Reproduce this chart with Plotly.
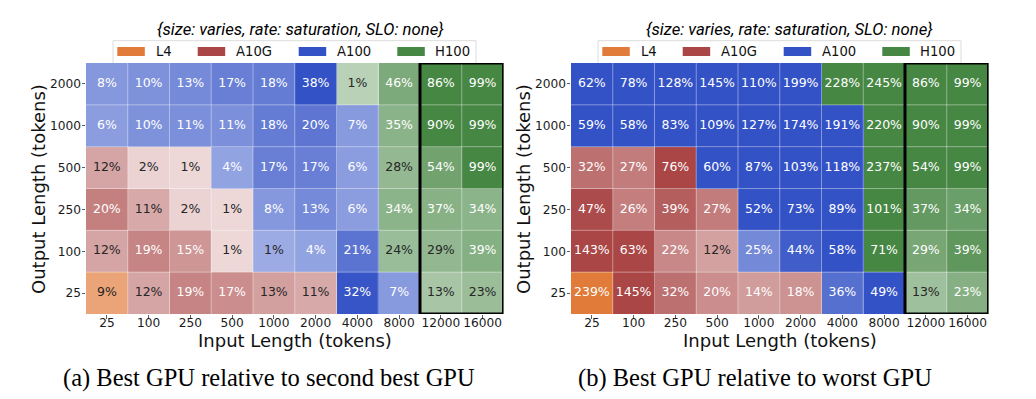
import plotly.graph_objects as go

# ---------------- data ----------------
gpus = ["L4", "A10G", "A100", "H100"]
input_lengths = ["25", "100", "250", "500", "1000", "2000", "4000", "8000", "12000", "16000"]
output_lengths = ["25", "100", "250", "500", "1000", "2000"]  # bottom -> top
highlight_inputs = ["12000", "16000"]

# best GPU per cell (rows bottom -> top, columns = input lengths)
best_gpu = [
    ["L4", "A10G", "A10G", "A10G", "A10G", "A10G", "A100", "A100", "H100", "H100"],
    ["A10G", "A10G", "A10G", "A10G", "A100", "A100", "A100", "H100", "H100", "H100"],
    ["A10G", "A10G", "A10G", "A10G", "A100", "A100", "A100", "H100", "H100", "H100"],
    ["A10G", "A10G", "A10G", "A100", "A100", "A100", "A100", "H100", "H100", "H100"],
    ["A100", "A100", "A100", "A100", "A100", "A100", "A100", "H100", "H100", "H100"],
    ["A100", "A100", "A100", "A100", "A100", "A100", "H100", "H100", "H100", "H100"],
]

# (a) best GPU relative to second best GPU (%)
vs_second_best = [
    [9, 12, 19, 17, 13, 11, 32, 7, 13, 23],
    [12, 19, 15, 1, 1, 4, 21, 24, 29, 39],
    [20, 11, 2, 1, 8, 13, 6, 34, 37, 34],
    [12, 2, 1, 4, 17, 17, 6, 28, 54, 99],
    [6, 10, 11, 11, 18, 20, 7, 35, 90, 99],
    [8, 10, 13, 17, 18, 38, 1, 46, 86, 99],
]

# (b) best GPU relative to worst GPU (%)
vs_worst = [
    [239, 145, 32, 20, 14, 18, 36, 49, 13, 23],
    [143, 63, 22, 12, 25, 44, 58, 71, 29, 39],
    [47, 26, 39, 27, 52, 73, 89, 101, 37, 34],
    [32, 27, 76, 60, 87, 103, 118, 237, 54, 99],
    [59, 58, 83, 109, 127, 174, 191, 220, 90, 99],
    [62, 78, 128, 145, 110, 199, 228, 245, 86, 99],
]

subtitle = "{size: varies, rate: saturation, SLO: none}"
captions = ["(a) Best GPU relative to second best GPU", "(b) Best GPU relative to worst GPU"]
x_title = "Input Length (tokens)"
y_title = "Output Length (tokens)"

# ---------------- styles ----------------
gpu_colors = {"L4": "#E07B39", "A10G": "#AA4646", "A100": "#3352C6", "H100": "#478744"}
# intensity (share of full colour) = intercept + slope * value, per panel / GPU
shade_a = {"L4": (0.40, 0.032), "A10G": (0.19, 0.025), "A100": (0.47, 0.016), "H100": (0.38, 0.0072)}
shade_b = {g: (0.35, 0.0133) for g in gpus}

W, H = 1036, 399
FONT = "DejaVu Sans"
DARK = "#262626"


def hex_rgb(h):
    h = h.lstrip("#")
    return tuple(int(h[i:i + 2], 16) for i in (0, 2, 4))


def blend(color, a):
    r, g, b = hex_rgb(color)
    return tuple(255 - a * (255 - c) for c in (r, g, b))


def lum(rgb):
    out = []
    for c in rgb:
        c = c / 255.0
        out.append(c / 12.92 if c <= 0.03928 else ((c + 0.055) / 1.055) ** 2.4)
    return 0.2126 * out[0] + 0.7152 * out[1] + 0.0722 * out[2]


def px(x):
    return x / W


def py(y):
    return 1 - y / H


panels = [
    dict(vals=vs_second_best, shade=shade_a, xa="x", ya="y", dx=0, title_x=300.3),
    dict(vals=vs_worst, shade=shade_b, xa="x2", ya="y2", dx=485, title_x=789.7),
]

fig = go.Figure()
shapes = []
annotations = []

for pi, p in enumerate(panels):
    vals = p["vals"]
    # one heatmap per GPU
    for g in gpus:
        z = []
        for r in range(len(output_lengths)):
            row = []
            for c in range(len(input_lengths)):
                if best_gpu[r][c] == g:
                    a0, s = p["shade"][g]
                    row.append(min(1.0, max(0.0, a0 + s * vals[r][c])))
                else:
                    row.append(None)
            z.append(row)
        fig.add_trace(go.Heatmap(
            x=input_lengths, y=output_lengths, z=z, zmin=0, zmax=1,
            colorscale=[[0, "#ffffff"], [1, gpu_colors[g]]],
            showscale=False, hoverinfo="skip", xaxis=p["xa"], yaxis=p["ya"],
        ))
    # cell labels
    tx, ty, tt, tc = [], [], [], []
    for r in range(len(output_lengths)):
        for c in range(len(input_lengths)):
            g = best_gpu[r][c]
            a0, s = p["shade"][g]
            a = min(1.0, max(0.0, a0 + s * vals[r][c]))
            rgb = blend(gpu_colors[g], a)
            tx.append(input_lengths[c])
            ty.append(output_lengths[r])
            tt.append(f"{vals[r][c]}%")
            tc.append(DARK if lum(rgb) > 0.408 else "#ffffff")
    fig.add_trace(go.Scatter(
        x=tx, y=ty, text=tt, mode="text", textposition="middle center",
        textfont=dict(family=FONT, size=12.5, color=tc),
        hoverinfo="skip", showlegend=False, xaxis=p["xa"], yaxis=p["ya"],
    ))

    # thin white grid lines between cells
    for k in range(len(input_lengths) - 1):
        shapes.append(dict(type="line", xref=p["xa"], yref=p["ya"], x0=k + 0.5, x1=k + 0.5,
                           y0=-0.5, y1=len(output_lengths) - 0.5,
                           line=dict(color="rgba(255,255,255,0.4)", width=1)))
    for k in range(len(output_lengths) - 1):
        shapes.append(dict(type="line", xref=p["xa"], yref=p["ya"], x0=-0.5, x1=len(input_lengths) - 0.5,
                           y0=k + 0.5, y1=k + 0.5,
                           line=dict(color="rgba(255,255,255,0.4)", width=1)))
    # highlight box
    i0 = input_lengths.index(highlight_inputs[0]) - 0.5
    i1 = input_lengths.index(highlight_inputs[-1]) + 0.5
    shapes.append(dict(type="rect", xref=p["xa"], yref=p["ya"], x0=i0, x1=i1,
                       y0=-0.5, y1=len(output_lengths) - 0.5,
                       line=dict(color="#000000", width=3), fillcolor="rgba(0,0,0,0)"))

    dx = p["dx"]
    # legend box (manual, matplotlib style)
    shapes.append(dict(type="rect", xref="paper", yref="paper", layer="below",
                       x0=px(113 + dx), x1=px(476 + dx), y0=py(64), y1=py(40.7),
                       line=dict(color="#dcdcdc", width=1), fillcolor="#ffffff"))
    sw_x = [117.3, 197.7, 298.7, 397.3]
    tx_x = [155.7, 235.7, 336.7, 435.0]
    for g, sx, lx in zip(gpus, sw_x, tx_x):
        shapes.append(dict(type="rect", xref="paper", yref="paper",
                           x0=px(sx + dx), x1=px(sx + 27.5 + dx), y0=py(56), y1=py(47),
                           line=dict(width=0), fillcolor=gpu_colors[g]))
        annotations.append(dict(xref="paper", yref="paper", x=px(lx - 2 + dx), y=py(51.5),
                                text=g, showarrow=False, xanchor="left", yanchor="middle",
                                font=dict(family=FONT, size=13.2, color="#111111")))
    # subtitle
    annotations.append(dict(xref="paper", yref="paper", x=px(p["title_x"]), y=py(29.5),
                            text=f"<i>{subtitle}</i>", showarrow=False,
                            xanchor="center", yanchor="middle",
                            font=dict(family="Roboto", size=16.7, color="#000000")))
    # axis titles
    annotations.append(dict(xref="paper", yref="paper", x=px(294.5 + dx), y=py(340),
                            text=x_title, showarrow=False, xanchor="center", yanchor="middle",
                            font=dict(family=FONT, size=18, color="#111111")))
    annotations.append(dict(xref="paper", yref="paper", x=px(39 + dx), y=py(189),
                            text=y_title, showarrow=False, xanchor="center", yanchor="middle",
                            textangle=-90,
                            font=dict(family=FONT, size=18, color="#111111")))
    # caption
    annotations.append(dict(xref="paper", yref="paper", x=px([268.5, 754.5][pi]), y=py(378),
                            text=captions[pi], showarrow=False, xanchor="center", yanchor="middle",
                            font=dict(family="Liberation Serif", size=24.5, color="#000000")))

axis_common = dict(
    ticks="outside", ticklen=3.5, tickwidth=0.8, tickcolor="#333333",
    showgrid=False, zeroline=False, showline=False,
    tickfont=dict(family=FONT, size=12.2, color="#1a1a1a"),
    fixedrange=True, automargin=False, tickangle=0,
)
x_common = dict(axis_common, ticklabelstandoff=-6)
y_common = dict(axis_common, ticklabelstandoff=-2)

fig.update_layout(
    width=W, height=H,
    margin=dict(l=0, r=0, t=0, b=0),
    paper_bgcolor="#ffffff", plot_bgcolor="#ffffff",
    showlegend=False,
    xaxis=dict(domain=[px(86), px(503.5)], anchor="y", type="category",
               categoryorder="array", categoryarray=input_lengths,
               range=[-0.5, len(input_lengths) - 0.5], **x_common),
    yaxis=dict(domain=[py(314), py(63)], anchor="x", type="category",
               categoryorder="array", categoryarray=output_lengths,
               range=[-0.5, len(output_lengths) - 0.5], **y_common),
    xaxis2=dict(domain=[px(571), px(988.5)], anchor="y2", type="category",
                categoryorder="array", categoryarray=input_lengths,
                range=[-0.5, len(input_lengths) - 0.5], **x_common),
    yaxis2=dict(domain=[py(314), py(63)], anchor="x2", type="category",
                categoryorder="array", categoryarray=output_lengths,
                range=[-0.5, len(output_lengths) - 0.5], **y_common),
    shapes=shapes,
    annotations=annotations,
)

fig.write_html(
    "out.html",
    config={"displayModeBar": False, "staticPlot": True},
    post_script="document.body.style.margin='0';document.body.style.overflow='hidden';",
)
